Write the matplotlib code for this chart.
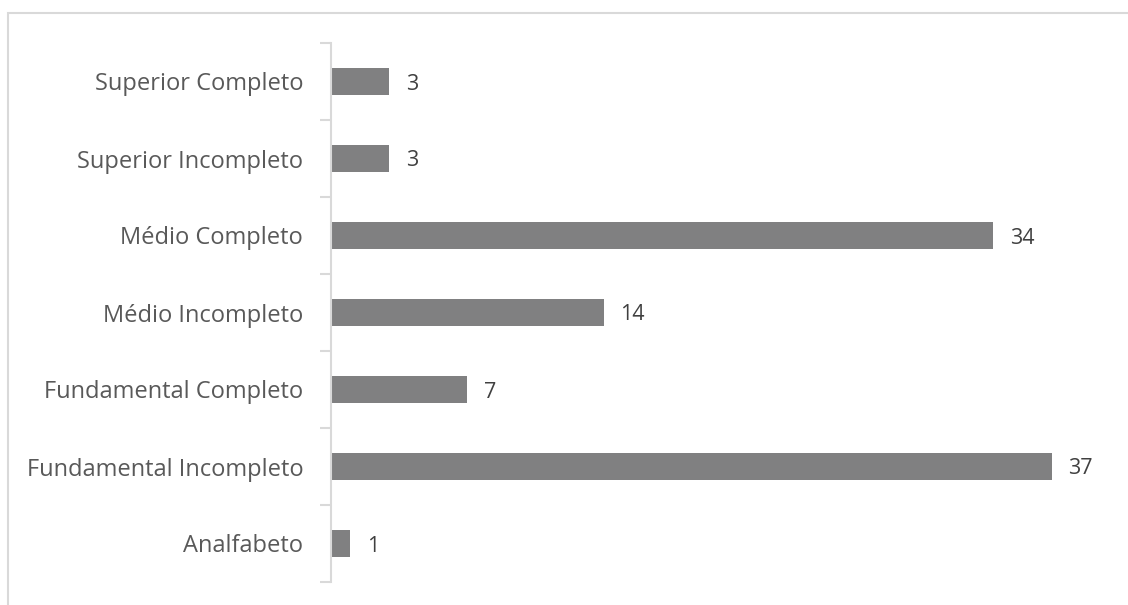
import numpy as np
import matplotlib
matplotlib.use('Agg')
import matplotlib.pyplot as plt
from matplotlib.patches import Rectangle

categories = ['Analfabeto', 'Fundamental Incompleto', 'Fundamental Completo',
              'Médio Incompleto', 'Médio Completo', 'Superior Incompleto',
              'Superior Completo']
values = [1, 37, 7, 14, 34, 3, 3]

plt.rcParams['font.family'] = ['Open Sans', 'DejaVu Sans']

fig = plt.figure(figsize=(11.28, 6.05), dpi=100)
# light frame around chart area
fig.patches.append(Rectangle((8 / 1128, -0.1), 1.2, (605 - 13) / 605 + 0.1,
                             transform=fig.transFigure, fill=False,
                             edgecolor='#d9d9d9', linewidth=1.5))

ax = fig.add_axes([331 / 1128, 23 / 605, 776 / 1128, 539 / 605])
y = np.arange(len(categories))
ax.barh(y, values, height=0.34, color='#808081')
ax.set_xlim(0, 39.85)
ax.set_ylim(-0.5, len(categories) - 0.5)

for yi, v in zip(y, values):
    ax.text(v + 0.85, yi, str(v), va='center_baseline', ha='left',
            fontsize=15.5, color='#404040')

ax.set_yticks(y)
ax.set_yticklabels(categories, fontsize=17, color='#595959')
for lbl in ax.get_yticklabels():
    lbl.set_verticalalignment('center_baseline')
ax.tick_params(axis='y', which='major', length=0, pad=20)
ax.set_yticks(np.arange(-0.5, len(categories), 1), minor=True)
ax.tick_params(axis='y', which='minor', length=8, color='#d9d9d9', width=1.5)
ax.set_xticks([])
for s in ['top', 'right', 'bottom']:
    ax.spines[s].set_visible(False)
ax.spines['left'].set_color('#d9d9d9')
ax.spines['left'].set_linewidth(1.5)

fig.savefig('out.png', dpi=100)
